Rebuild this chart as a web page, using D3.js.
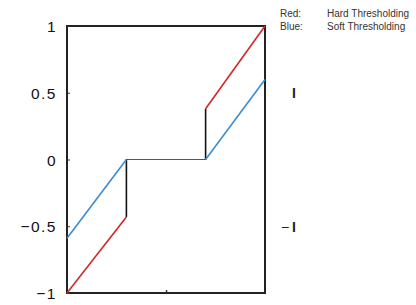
<!DOCTYPE html>
<html><head><meta charset="utf-8">
<script src="https://cdn.jsdelivr.net/npm/d3@7"></script>
<style>body{margin:0;background:#fff}svg{display:block}</style>
</head><body>
<script>
const threshold = 0.4;
const hardLeft = [[-1, -1], [-0.4, -0.43]];
const hardRight = [[0.4, 0.38], [1, 1]];
const softLeft = [[-1, -0.59], [-0.4, 0]];
const softRight = [[0.4, 0], [1, 0.6]];
const jumps = [[[-0.4, 0], [-0.4, -0.43]], [[0.4, 0], [0.4, 0.38]]];
const zeroLine = [[-0.4, 0], [0.4, 0]];
const yTicks = [1, 0.5, 0, -0.5, -1];
const yTickLabels = ["1", "0.5", "0", "\u22120.5", "\u22121"];
const legendKeys = ["Red:", "Blue:"];
const legendNames = ["Hard Thresholding", "Soft Thresholding"];
const sideLabels = [[0.5, "", "I"], [-0.5, "\u2212", "I"]];

const W = 416, H = 305;
const svg = d3.select("body").append("svg").attr("width", W).attr("height", H);
const x = d3.scaleLinear().domain([-1, 1]).range([67, 265]);
const y = d3.scaleLinear().domain([-1, 1]).range([293, 26]);
const line = d3.line().x(d => x(d[0])).y(d => y(d[1]));

svg.append("rect").attr("x", x(-1)).attr("y", y(1)).attr("width", x(1) - x(-1)).attr("height", y(-1) - y(1))
  .attr("fill", "none").attr("stroke", "#222").attr("stroke-width", 2);

const yAxis = d3.axisRight(y).tickValues(yTicks).tickSize(3).tickFormat("");
const ga = svg.append("g").attr("transform", `translate(${x(-1)},0)`).call(yAxis);
ga.select(".domain").remove();
ga.selectAll("line").attr("stroke", "#333");
svg.append("g").selectAll("text").data(yTicks).join("text")
  .attr("x", 57).attr("y", d => y(d) + 6)
  .attr("text-anchor", "end")
  .attr("font-family", "Liberation Sans, Arial, sans-serif").attr("font-size", 15.5)
  .attr("letter-spacing", 1.5)
  .attr("fill", "#111")
  .text((d, i) => yTickLabels[i]);

const xAxis = d3.axisTop(x).tickValues([0]).tickSize(3).tickFormat("");
const gx = svg.append("g").attr("transform", `translate(0,${y(-1)})`).call(xAxis);
gx.select(".domain").remove();
gx.selectAll("line").attr("stroke", "#333").attr("stroke-width", 1.5);

svg.append("path").attr("d", line(zeroLine)).attr("stroke", "#555").attr("stroke-width", 1).attr("fill", "none");
jumps.forEach(j => svg.append("path").attr("d", line(j)).attr("stroke", "#111").attr("stroke-width", 1.6).attr("fill", "none"));
[softLeft, softRight].forEach(s => svg.append("path").attr("d", line(s)).attr("stroke", "#3d8bd0").attr("stroke-width", 1.6).attr("fill", "none"));
[hardLeft, hardRight].forEach(s => svg.append("path").attr("d", line(s)).attr("stroke", "#d02828").attr("stroke-width", 1.6).attr("fill", "none"));

const lg = svg.append("g").attr("font-family", "Liberation Sans, Arial, sans-serif").attr("font-size", 10).attr("fill", "#333");
legendKeys.forEach((k, i) => {
  lg.append("text").attr("x", 280).attr("y", 17 + i * 13).text(k);
  lg.append("text").attr("x", 327).attr("y", 17 + i * 13).text(legendNames[i]);
});

const sl = svg.append("g").selectAll("text").data(sideLabels).join("text")
  .attr("x", 296).attr("y", d => y(d[0]) + 5.5)
  .attr("text-anchor", "end")
  .attr("font-family", "Liberation Sans, Arial, sans-serif").attr("font-size", 14)
  .attr("fill", "#222");
sl.append("tspan").attr("letter-spacing", 3).text(d => d[1]);
sl.append("tspan").attr("font-weight", "bold").text(d => d[2]);
</script>
</body></html>
